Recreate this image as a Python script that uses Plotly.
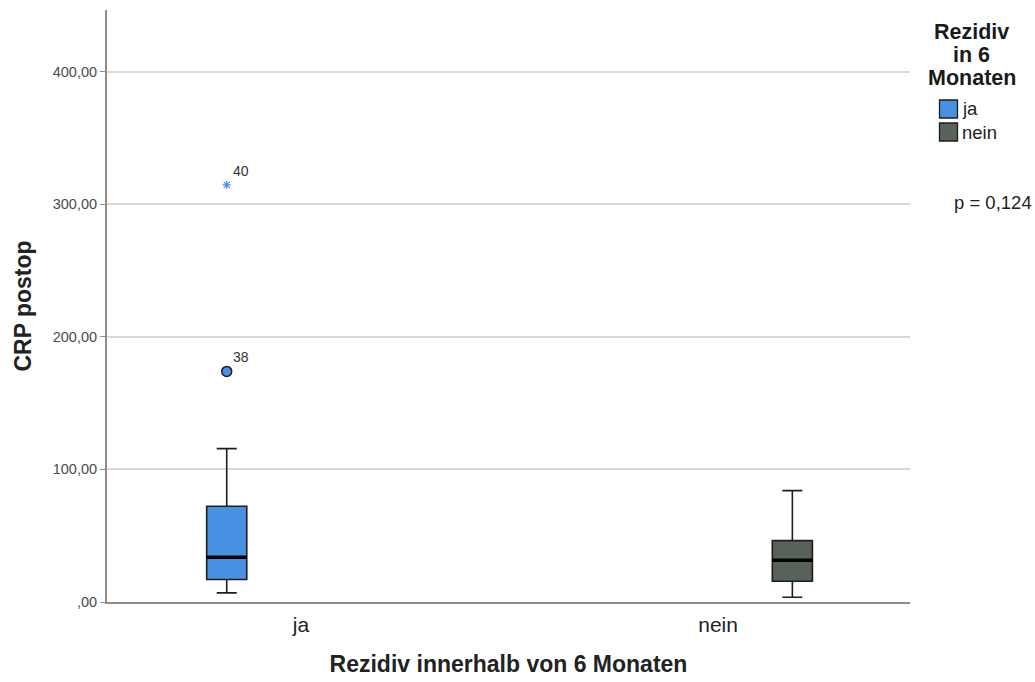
import plotly.graph_objects as go

# Box summaries for CRP postop by recurrence group
groups = ["ja", "nein"]
lower_whisker = [6.9, 3.6]
q1 = [17.0, 15.7]
median = [33.8, 31.5]
q3 = [72.2, 46.3]
upper_whisker = [115.7, 84.0]
colors = ["#4a90e2", "#56625a"]

# Outliers of group "ja"
outlier_case = ["38", "40"]
outlier_value = [173.9, 314.6]
outlier_symbol = ["circle", "asterisk-open"]

y_ticks = [0, 100, 200, 300, 400]
y_ticktext = [",00", "100,00", "200,00", "300,00", "400,00"]

FONT = "Arial, Liberation Sans, sans-serif"
DARK = "#1e1e1e"

fig = go.Figure()
for i, g in enumerate(groups):
    fig.add_trace(go.Box(
        x=[g], name=g, offsetgroup=g,
        q1=[q1[i]], median=[median[i]], q3=[q3[i]],
        lowerfence=[lower_whisker[i]], upperfence=[upper_whisker[i]],
        fillcolor=colors[i],
        line=dict(color=DARK, width=1.6),
        whiskerwidth=0.5,
        boxpoints=False,
        showlegend=False,
        hoverinfo="skip",
    ))
    # heavier median stroke drawn as a flat box at the median
    fig.add_trace(go.Box(
        x=[g], offsetgroup=g,
        q1=[median[i]], median=[median[i]], q3=[median[i]],
        lowerfence=[median[i]], upperfence=[median[i]],
        fillcolor="rgba(0,0,0,0)",
        line=dict(color="#000000", width=3.6),
        whiskerwidth=0,
        boxpoints=False, showlegend=False, hoverinfo="skip",
    ))

# Outlier markers share the "ja" box position
for val, case, sym in zip(outlier_value, outlier_case, outlier_symbol):
    if sym == "circle":
        marker = dict(symbol="circle", size=10, color=colors[0],
                      line=dict(color=DARK, width=1.5))
    else:
        marker = dict(symbol="asterisk-open", size=7, color=colors[0],
                      line=dict(color=colors[0], width=1.2))
    fig.add_trace(go.Box(
        x=["ja"], y=[val], offsetgroup="ja",
        boxpoints="all", jitter=0, pointpos=0,
        fillcolor="rgba(0,0,0,0)", line=dict(width=0, color="rgba(0,0,0,0)"),
        marker=marker, showlegend=False, hoverinfo="skip",
    ))
    fig.add_annotation(x=0, xshift=-0.178 * 417 + 14, y=val, yshift=14,
                       text=case, showarrow=False,
                       font=dict(family=FONT, size=14, color="#333333"))

fig.update_layout(
    width=1035, height=682,
    margin=dict(l=107, r=125, t=10, b=80),
    paper_bgcolor="white", plot_bgcolor="white",
    boxmode="group", boxgap=0.288, boxgroupgap=0.73,
    font=dict(family=FONT),
    xaxis=dict(
        type="category", categoryorder="array", categoryarray=groups,
        range=[-0.465, 1.46],
        showline=True, linecolor="#8c8c8c", linewidth=2,
        showgrid=False,
        ticks="outside", ticklen=3, tickcolor="rgba(0,0,0,0)",
        tickfont=dict(family=FONT, size=21, color="#222222"),
        automargin=False,
        title=dict(text="<b>Rezidiv innerhalb von 6 Monaten</b>",
                   font=dict(family=FONT, size=23, color="#222222"),
                   standoff=21),
    ),
    yaxis=dict(
        range=[0, 446.5],
        tickvals=y_ticks, ticktext=y_ticktext,
        showline=True, linecolor="#8c8c8c", linewidth=2,
        ticks="outside", ticklen=5, tickcolor="#8c8c8c",
        showgrid=True, gridcolor="#d9d9d9", gridwidth=2,
        zeroline=False,
        automargin=False,
        tickfont=dict(family=FONT, size=14.5, color="#4a4a4a"),
        title=dict(text="<b>CRP postop</b>",
                   font=dict(family=FONT, size=23, color="#222222"),
                   standoff=15),
    ),
)

# Legend block on the right (title lines set individually for tight spacing)
def px_x(x):
    return 1.0 + (x - 910) / 803


def px_y(y):
    return 1.0 - (y - 10) / 592


for line, yc in zip(["Rezidiv", "in 6", "Monaten"], [32, 55, 78]):
    fig.add_annotation(xref="paper", yref="paper", x=px_x(971.5), y=px_y(yc),
                       xanchor="center", yanchor="middle",
                       text=f"<b>{line}</b>", showarrow=False,
                       font=dict(family=FONT, size=21.5, color="#1a1a1a"))

for k, g in enumerate(groups):
    top = 100 + k * 23
    fig.add_shape(type="rect", xref="paper", yref="paper",
                  x0=px_x(939.5), x1=px_x(957.5),
                  y0=px_y(top + 18), y1=px_y(top),
                  fillcolor=colors[k], line=dict(color=DARK, width=1.3))
    fig.add_annotation(xref="paper", yref="paper", x=px_x(960),
                       y=px_y(top + 9), xanchor="left", yanchor="middle",
                       text=g, showarrow=False,
                       font=dict(family=FONT, size=18.5, color="#222222"))

fig.add_annotation(xref="paper", yref="paper", x=px_x(1033),
                   y=px_y(203), xanchor="right", yanchor="middle",
                   text="p = 0,124", showarrow=False, borderpad=0,
                   font=dict(family=FONT, size=18.5, color="#222222"))

fig.write_html("out.html")
